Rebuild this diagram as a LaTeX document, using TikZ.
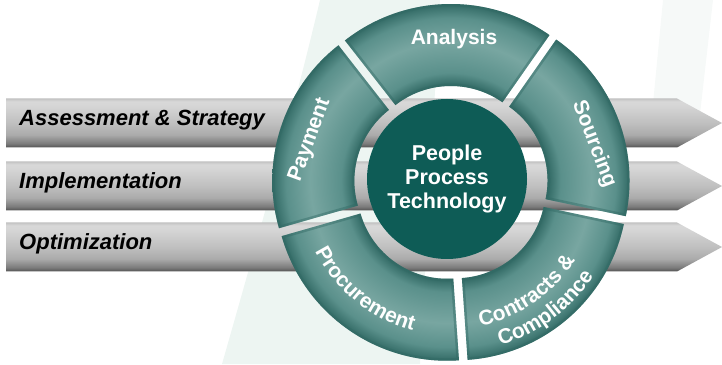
\documentclass[tikz,border=0pt]{standalone}
\usepackage{fontspec}
\setmainfont{Liberation Sans}
\usetikzlibrary{decorations.text, calc}

\definecolor{hubteal}{RGB}{14,92,86}
\definecolor{ringdark}{RGB}{50,106,101}
\definecolor{ringmid}{RGB}{90,144,139}
\definecolor{ringlight}{RGB}{120,166,161}
\definecolor{swoosh}{RGB}{237,245,242}
\definecolor{swooshlight}{RGB}{246,249,248}

% radial shading for the ring segments (25bp = outer radius)
\pgfdeclareradialshading{ringshade}{\pgfpoint{0bp}{0bp}}{color(0bp)=(ringdark); color(13.2bp)=(ringdark); color(15bp)=(ringmid); color(19.5bp)=(ringlight); color(23bp)=(ringmid); color(25bp)=(ringdark); color(50bp)=(ringdark)}
% vertical shading for the grey bars (25bp = bottom, 75bp = top)
\pgfdeclareverticalshading{barshade}{100bp}{color(0bp)=(black!68); color(25bp)=(black!68); color(29bp)=(black!52); color(38bp)=(black!33); color(50bp)=(black!25); color(66bp)=(black!17); color(72bp)=(black!15); color(75bp)=(black!24); color(100bp)=(black!24)}

\newcommand{\segfont}{\bfseries\fontsize{21}{21}\selectfont}

\tikzset{
  barlabel/.style={font=\bfseries\itshape\fontsize{22}{22}\selectfont, inner sep=0pt, anchor=base west},
  seglabel/.style={text=white, font=\segfont, inner sep=0pt},
  hub/.style={circle, minimum size=160pt, fill=hubteal, text=white, align=center, font=\bfseries\fontsize{21.5}{24}\selectfont},
  segedge/.style={ringdark, line width=5pt, opacity=.45}
}

\begin{document}
\begin{tikzpicture}[x=1pt, y=1pt]
    \useasboundingbox (0,0) rectangle (722,364);

    % faint background bands
    \fill[swoosh] (320,364) .. controls (296,262) and (262,140) .. (222,0) -- (420,0) -- (440,364) -- cycle;
    \fill[swooshlight] (663,364) -- (713,364) -- (700,250) -- (652,250) -- cycle;

    % phase bars
    \foreach \yc/\txt [count=\i] in {241/Assessment \& Strategy, 178/Implementation, 117/Optimization}{
        \shade[shading=barshade] (6,\yc-24.5) -- (677,\yc-24.5) -- (722,\yc) -- (677,\yc+24.5) -- (6,\yc+24.5) -- cycle;
        \node[barlabel] (phase\i) at (19,\yc-3) {\txt};
    }

    % ring of five segments
    \begin{scope}[shift={(451,181)}]
        \coordinate (ring) at (0,0);
        \foreach \a/\b in {55/128, 128/196, 196/274, 274/348, -12/55}{
            \pgfmathsetmacro{\m}{(\a+\b)/2}
            \begin{scope}[shift={(\m:7pt)}]
                \clip (\a:172pt) arc (\a:\b:172pt) -- (\b:90pt) arc (\b:\a:90pt) -- cycle;
                \shade[shading=ringshade] (0,0) circle (172pt);
                \draw[segedge] (\a:172pt) arc (\a:\b:172pt) -- (\b:90pt) arc (\b:\a:90pt) -- cycle;
            \end{scope}
        }

        % curved labels on the lower segments
        \path[decorate, decoration={text along path, text align=center, text color=white,
            text={|\segfont|Procurement}}] (195:152pt) arc (195:267:152pt);
        \path[decorate, decoration={text along path, text align=center, text color=white,
            text={|\segfont|Contracts {\&}}}] (-92:146pt) arc (-92:-18:146pt);
        \path[decorate, decoration={text along path, text align=center, text color=white,
            text={|\segfont|Compliance}}] (-90:170pt) arc (-90:-16:170pt);
    \end{scope}

    % centre
    \node[hub] (hub) at (447,185) {People\\Process\\Technology};

    % upper segment labels
    \node[seglabel, anchor=base] (analysis) at (454,319) {Analysis};
    \node[seglabel, rotate=-69] (sourcing) at (594,220) {Sourcing};
    \node[seglabel, rotate=70] (payment) at (310,224) {Payment};

\end{tikzpicture}
\end{document}
